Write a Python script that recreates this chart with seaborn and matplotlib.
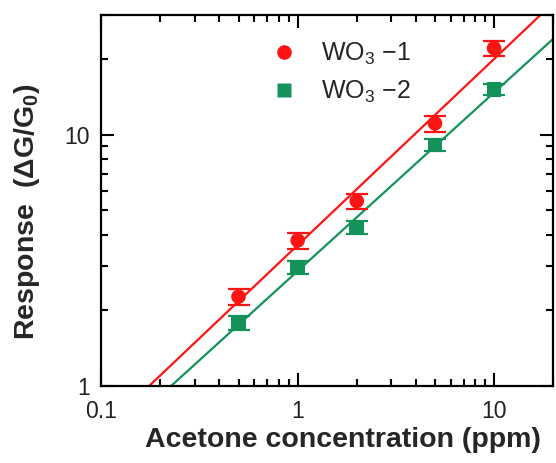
import numpy as np
import pandas as pd
import matplotlib
matplotlib.use("Agg")
import matplotlib.pyplot as plt
import seaborn as sns
from matplotlib.ticker import LogLocator, FixedLocator, FixedFormatter, NullFormatter

# data
conc = [0.5, 1, 2, 5, 10]
resp_wo3_1 = [2.27, 3.8, 5.45, 11.1, 22.1]
err_wo3_1 = [0.17, 0.28, 0.38, 0.8, 1.5]
resp_wo3_2 = [1.79, 2.97, 4.29, 9.1, 15.1]
err_wo3_2 = [0.11, 0.17, 0.25, 0.5, 0.75]
labels = ["WO$_3$ \u22121", "WO$_3$ \u22122"]
colors = ["#ff1414", "#13935a"]
markers = ["o", "s"]

sns.set_style("ticks")
plt.rcParams["font.family"] = ["Liberation Sans", "DejaVu Sans"]
plt.rcParams["mathtext.fontset"] = "custom"
plt.rcParams["mathtext.rm"] = "Liberation Sans"
plt.rcParams["mathtext.bf"] = "Liberation Sans:bold"

fig = plt.figure(figsize=(5.56, 4.63), dpi=100)
ax = fig.add_axes([0.182, 0.166, 0.813, 0.802])

df = pd.DataFrame({
    "conc": conc * 2,
    "resp": resp_wo3_1 + resp_wo3_2,
    "sample": [labels[0]] * len(conc) + [labels[1]] * len(conc),
})

xfit = np.array([0.1, 20])
for lab, resp, err, c in zip(labels, [resp_wo3_1, resp_wo3_2], [err_wo3_1, err_wo3_2], colors):
    # power-law fit
    k, b = np.polyfit(np.log10(conc), np.log10(resp), 1)
    ax.plot(xfit, 10 ** (k * np.log10(xfit) + b), color=c, lw=1.6, zorder=2)
    ax.errorbar(conc, resp, yerr=err, fmt="none", ecolor=c, elinewidth=1.6,
                capsize=8, capthick=1.6, zorder=3)

sns.scatterplot(data=df, x="conc", y="resp", hue="sample", style="sample",
                palette=colors, markers=markers, s=110, edgecolor="none",
                ax=ax, zorder=4)

ax.set_xscale("log")
ax.set_yscale("log")
ax.set_xlim(0.1, 20)
ax.set_ylim(1, 30)

ax.xaxis.set_major_locator(FixedLocator([0.1, 1, 10]))
ax.xaxis.set_major_formatter(FixedFormatter(["0.1", "1", "10"]))
ax.xaxis.set_minor_locator(LogLocator(base=10, subs=np.arange(2, 10), numticks=20))
ax.xaxis.set_minor_formatter(NullFormatter())
ax.yaxis.set_major_locator(FixedLocator([1, 10]))
ax.yaxis.set_major_formatter(FixedFormatter(["1", "10"]))
ax.yaxis.set_minor_locator(LogLocator(base=10, subs=np.arange(2, 10), numticks=20))
ax.yaxis.set_minor_formatter(NullFormatter())

ax.tick_params(which="both", direction="in", top=True, right=True, width=1.5, colors="black")
ax.tick_params(which="major", length=9.5, labelsize=16.5, labelcolor="#222222")
ax.tick_params(axis="x", which="major", pad=10)
ax.tick_params(axis="y", which="major", pad=8)
ax.tick_params(which="minor", length=5)
for s in ax.spines.values():
    s.set_linewidth(1.6)
    s.set_color("black")

ax.set_xlabel("Acetone concentration (ppm)", fontsize=20.5, fontweight="bold")
ax.set_ylabel("Response  ($\\mathbf{\\Delta}$G/G$_\\mathbf{0}$)", fontsize=20.5,
              fontweight="bold")
ax.xaxis.set_label_coords(0.535, -0.11)
ax.yaxis.set_label_coords(-0.13, 0.47)

ax.legend(loc="upper left", bbox_to_anchor=(0.3, 0.99), frameon=False, fontsize=18,
          handletextpad=0.45, labelspacing=0.45, markerscale=1.0)

fig.savefig("out.png", dpi=100)
